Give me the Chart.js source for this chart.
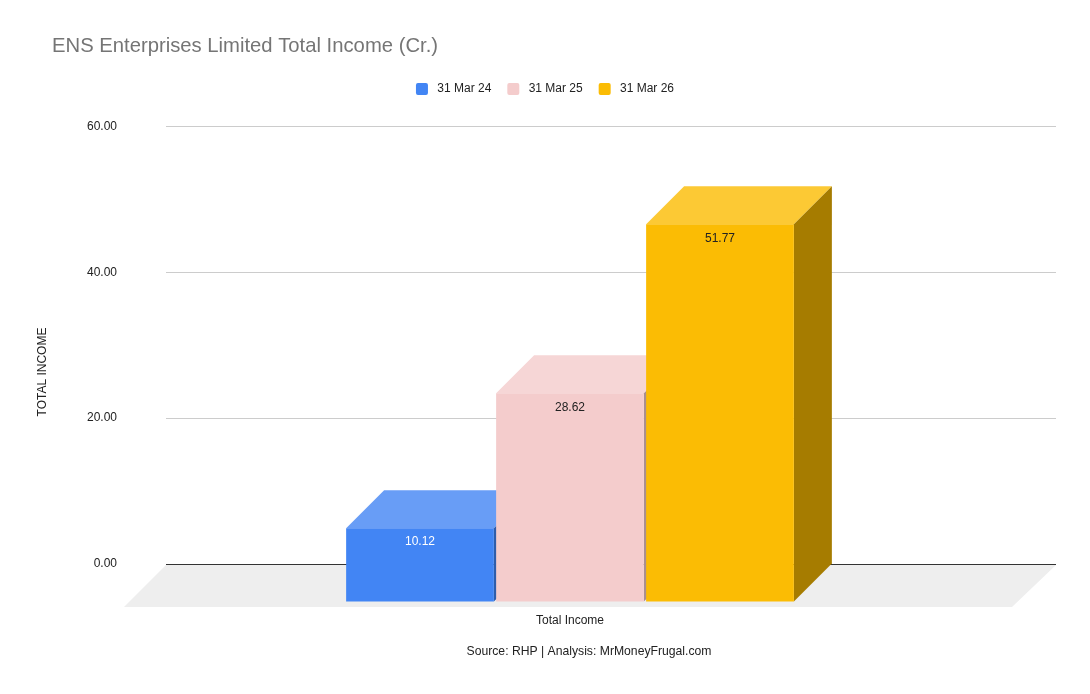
<!DOCTYPE html>
<html>
<head>
<meta charset="utf-8">
<title>ENS Enterprises Limited Total Income (Cr.)</title>
<script src="https://cdn.jsdelivr.net/npm/chart.js@4"></script>
<style>
    html, body { margin: 0; padding: 0; background: #fff; }
    #wrap { position: relative; width: 1090px; height: 694px; }
</style>
</head>
<body>
<div id="wrap"><canvas id="incomeChart"></canvas></div>
<script>
const categories = ['Total Income'];
const years = ['31 Mar 24', '31 Mar 25', '31 Mar 26'];
const income24 = [10.12];
const income25 = [28.62];
const income26 = [51.77];
const yTicks = [0, 20, 40, 60];

const frontColors = ['#4285f4', '#f4cccc', '#fbbc04'];
const topColors = ['#689df6', '#f6d6d6', '#fcc934'];
const sideColors = ['#2e5dab', '#aa8f8f', '#a67c00'];
const valueColors = ['#ffffff', '#222222', '#222222'];

const FONT = '"Liberation Sans", Arial, sans-serif';
const DEPTH = 38;      // how far the box goes back
const SHIFT_X = -41;   // front face sits left of the back plane

function poly(ctx, color, pts) {
    ctx.fillStyle = color;
    ctx.beginPath();
    pts.forEach(function (p, i) {
        if (i === 0) ctx.moveTo(p[0], p[1]);
        else ctx.lineTo(p[0], p[1]);
    });
    ctx.closePath();
    ctx.fill();
}

const box3d = {
    id: 'box3d',
    afterLayout: function (chart) {
        chart.titleBlock.left = 52;
        chart.legend.left = 34;
        chart.legend.top = 67;
    },
    // draws floor and boxes left to right so each one covers the side of the previous one
    beforeDatasetsDraw: function (chart) {
        const ctx = chart.ctx;
        const area = chart.chartArea;
        const zero = chart.scales.y.getPixelForValue(0);

        poly(ctx, '#eeeeee', [
            [area.left, zero + 1],
            [area.right, zero + 1],
            [area.right - 44, zero + 43],
            [area.left - 42, zero + 43]
        ]);

        chart.data.datasets.forEach(function (ds, i) {
            const meta = chart.getDatasetMeta(i);
            meta.data.forEach(function (bar) {
                const p = bar.getProps(['x', 'y', 'base', 'width']);
                const left = p.x - p.width / 2 + SHIFT_X;
                const right = p.x + p.width / 2 + SHIFT_X;
                const top = p.y + DEPTH;
                const bottom = p.base + DEPTH;
                poly(ctx, topColors[i], [[left, top], [left + DEPTH, top - DEPTH], [right + DEPTH, top - DEPTH], [right, top]]);
                poly(ctx, sideColors[i], [[right, top], [right + DEPTH, top - DEPTH], [right + DEPTH, bottom - DEPTH], [right, bottom]]);
            });
            ctx.save();
            ctx.translate(SHIFT_X, DEPTH);
            meta.controller.draw();
            ctx.restore();
        });

        // value labels on the front faces
        ctx.save();
        ctx.font = '12px ' + FONT;
        ctx.textAlign = 'center';
        ctx.textBaseline = 'middle';
        chart.data.datasets.forEach(function (ds, i) {
            chart.getDatasetMeta(i).data.forEach(function (bar, j) {
                ctx.fillStyle = valueColors[i];
                ctx.fillText(ds.data[j].toFixed(2), bar.x + SHIFT_X, bar.y + DEPTH + 14);
            });
        });
        // source line and axis title sit off centre, so they are placed here
        ctx.fillStyle = '#222222';
        ctx.font = '12.2px ' + FONT;
        ctx.fillText('Source: RHP | Analysis: MrMoneyFrugal.com', 589, 652);
        ctx.font = '12px ' + FONT;
        ctx.translate(43, 372);
        ctx.rotate(-Math.PI / 2);
        ctx.fillText('TOTAL INCOME', 0, 0);
        ctx.restore();
        return false;
    }
};

new Chart(document.getElementById('incomeChart'), {
    type: 'bar',
    plugins: [box3d],
    data: {
        labels: categories,
        datasets: [
            { label: years[0], data: income24, backgroundColor: frontColors[0] },
            { label: years[1], data: income25, backgroundColor: frontColors[1] },
            { label: years[2], data: income26, backgroundColor: frontColors[2] }
        ]
    },
    options: {
        responsive: true,
        maintainAspectRatio: false,
        animation: false,
        layout: { padding: { top: 34, right: 34, left: 0, bottom: 0 } },
        datasets: { bar: { categoryPercentage: 0.5056, barPercentage: 0.985 } },
        plugins: {
            title: {
                display: true,
                text: 'ENS Enterprises Limited Total Income (Cr.)',
                align: 'start',
                color: '#757575',
                font: { family: FONT, size: 20.25, weight: 'normal' },
                padding: { top: 0, bottom: 30 }
            },
            legend: {
                display: true,
                position: 'top',
                labels: {
                    color: '#222222',
                    font: { family: FONT, size: 12 },
                    boxWidth: 12,
                    boxHeight: 12,
                    padding: 16,
                    useBorderRadius: true,
                    borderRadius: 2,
                    generateLabels: function (chart) {
                        const items = Chart.defaults.plugins.legend.labels.generateLabels(chart);
                        items.forEach(function (item) { item.text = ' ' + item.text; });
                        return items;
                    }
                }
            },
            tooltip: { enabled: false }
        },
        scales: {
            x: {
                afterFit: function (scale) { scale.height = 130; },
                grid: { display: false },
                border: { display: false },
                ticks: { color: '#222222', font: { family: FONT, size: 12 }, padding: 41, labelOffset: SHIFT_X }
            },
            y: {
                min: 0,
                max: 60,
                afterFit: function (scale) { scale.width = 166; },
                afterBuildTicks: function (scale) {
                    scale.ticks = yTicks.map(function (v) { return { value: v }; });
                },
                border: { display: false },
                grid: {
                    drawTicks: false,
                    color: function (c) { return c.tick.value === 0 ? '#333333' : '#cccccc'; }
                },
                ticks: {
                    color: '#222222',
                    font: { family: FONT, size: 12 },
                    padding: 49,
                    callback: function (v) { return v.toFixed(2); }
                }
            }
        }
    }
});
</script>
</body>
</html>
